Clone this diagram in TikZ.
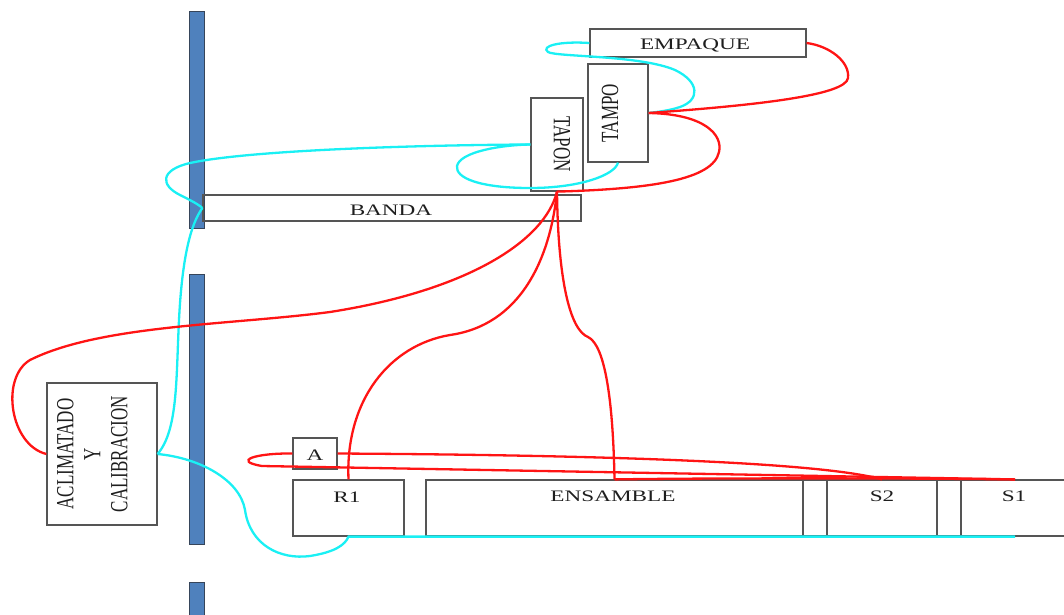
\documentclass[tikz,border=0pt]{standalone}
\usepackage{fontspec}
\setmainfont{Liberation Serif}
\usepackage{graphicx}
\definecolor{boxgray}{HTML}{555555}
\definecolor{txtgray}{HTML}{1E1E1E}
\definecolor{barblue}{HTML}{4F81BD}
\definecolor{bardraw}{HTML}{36455A}
\definecolor{cyanc}{HTML}{1AF0F4}
\definecolor{redc}{HTML}{FF1414}
\newcommand\hsx[1]{\scalebox{1.45}[1]{#1}}
\newcommand\vup[1]{\rotatebox{90}{\scalebox{1}[1.45]{#1}}}
\newcommand\vdn[1]{\rotatebox{-90}{\scalebox{1}[1.45]{#1}}}
\begin{document}
\begin{tikzpicture}[x=1pt,y=-1pt,
  box/.style={draw=boxgray, line width=1.2pt, rectangle, inner sep=0pt},
  bar/.style={draw=bardraw, fill=barblue, line width=0.9pt, rectangle, inner sep=0pt, minimum width=15pt},
  lbl/.style={inner sep=0pt, text=txtgray, font=\fontsize{16}{18}\selectfont},
  vlbl/.style={inner sep=0pt, text=txtgray, font=\fontsize{17}{18.6}\selectfont},
  cyanl/.style={draw=cyanc, line width=2.3pt},
  redl/.style={draw=redc, line width=2.3pt}]
\useasboundingbox (0,0) rectangle (1064,614);
\clip (0,0) rectangle (1064,614);
% bars
\node[bar, minimum height=217pt] (B1) at (196.5,119.5) {};
\node[bar, minimum height=270pt] (B2) at (196.5,409) {};
\node[bar, minimum height=58pt] (B3) at (196.5,611) {};
% boxes
\node[box, minimum width=216pt, minimum height=28pt] (EM) at (698,43) {};
\node[box, minimum width=60pt, minimum height=98pt] (TM) at (618,113) {};
\node[box, minimum width=52pt, minimum height=93pt] (TP) at (557,144.5) {};
\node[box, minimum width=378pt, minimum height=26pt] (BA) at (392,208) {};
\node[box, minimum width=110pt, minimum height=142pt] (AC) at (102,454) {};
\node[box, minimum width=44pt, minimum height=31pt] (A) at (315,453.5) {};
\node[box, minimum width=111pt, minimum height=56pt] (R1) at (348.5,508) {};
\node[box, minimum width=377pt, minimum height=56pt] (EN) at (614.5,508) {};
\node[box, minimum width=24pt, minimum height=56pt] (G1) at (815,508) {};
\node[box, minimum width=110pt, minimum height=56pt] (S2) at (882,508) {};
\node[box, minimum width=24pt, minimum height=56pt] (G2) at (949,508) {};
\node[box, minimum width=108pt, minimum height=56pt] (S1) at (1015,508) {};
% labels
\node[lbl] (tEM) at (695,45) {\hsx{EMPAQUE}};
\node[vlbl] (tTM) at (610,113) {\vup{TAMPO}};
\node[vlbl] (tTP) at (562,144) {\vdn{TAPON}};
\node[lbl] (tBA) at (391,210) {\hsx{BANDA}};
\node[vlbl] (tAC) at (95,454) {\vup{\begin{tabular}{@{}c@{}}ACLIMATADO\\Y\\CALIBRACION\end{tabular}}};
\node[lbl] (tA) at (315,455) {\hsx{A}};
\node[lbl] (tR1) at (347,497) {\hsx{R1}};
\node[lbl] (tEN) at (613,496) {\hsx{ENSAMBLE}};
\node[lbl] (tS2) at (882,496) {\hsx{S2}};
\node[lbl] (tS1) at (1014,496) {\hsx{S1}};
% cyan connectors
\draw[cyanl] (EM.west) .. controls (560,41) and (540,46) .. (548,52) .. controls (556,57) and (640,55) .. (675,70) .. controls (700,82) and (700,100) .. (680,107) .. controls (668,111) and (656,112) .. (TM.east);
\draw[cyanl] (TM.south) .. controls (615,175) and (580,188) .. (530,188) .. controls (480,188) and (455,178) .. (457,166) .. controls (460,152) and (500,145) .. (TP.west);
\draw[cyanl] (TP.west) .. controls (420,145) and (250,150) .. (190,163) .. controls (160,170) and (160,185) .. (180,195) .. controls (190,200) and (198,204) .. (BA.west);
\draw[cyanl] (BA.west) .. controls (190,225) and (182,260) .. (179,320) .. controls (176,380) and (178,430) .. (AC.east);
\draw[cyanl] (AC.east) .. controls (200,458) and (240,480) .. (245,510) .. controls (250,545) and (280,560) .. (310,556) .. controls (335,552) and (345,545) .. (R1.south) -- (S1.south);
% red connectors
\draw[redl] (EM.east) .. controls (830,46) and (850,62) .. (848,78) .. controls (846,95) and (760,105) .. (TM.east);
\draw[redl] (TM.east) .. controls (705,114) and (723,135) .. (719,152) .. controls (713,180) and (650,189) .. (TP.south);
\draw[redl] (TP.south) .. controls (545,240) and (470,290) .. (330,312) .. controls (230,325) and (100,325) .. (30,360) .. controls (0,378) and (10,445) .. (AC.west);
\draw[redl] (TP.south) .. controls (550,260) and (520,325) .. (450,335) .. controls (390,345) and (345,400) .. (R1.north);
\draw[redl] (TP.south) .. controls (558,280) and (570,330) .. (588,337) .. controls (605,345) and (613,400) .. (EN.north);
\draw[redl] (A.west) .. controls (255,453) and (232,461) .. (262,466) -- (S1.north);
\draw[redl] (A.east) .. controls (600,455) and (820,462) .. (S2.north);
\draw[redl] (EN.north) .. controls (700,478) and (900,478) .. (S1.north);
\end{tikzpicture}
\end{document}
